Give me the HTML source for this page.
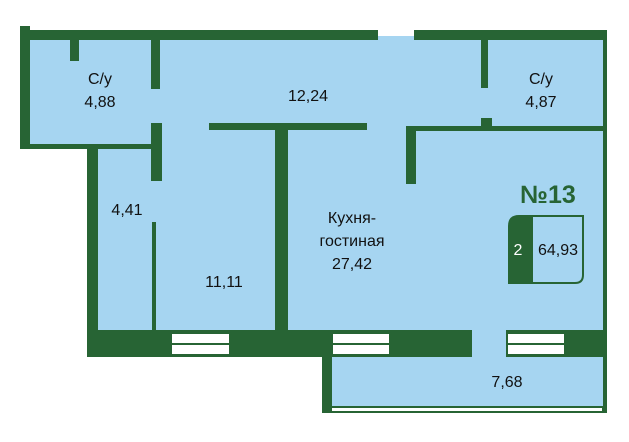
<!DOCTYPE html>
<html><head><meta charset="utf-8"><style>
body{margin:0;background:#fff;}
svg{display:block;}
text{font-family:"Liberation Sans",sans-serif;font-size:16px;fill:#111;text-anchor:middle;}
</style></head><body>
<svg width="629" height="442" viewBox="0 0 629 442" xmlns="http://www.w3.org/2000/svg">
<g fill="#a6d5f1">
<polygon points="30,36 603,36 603,330 98,330 98,148 30,148"/>
<rect x="332" y="330" width="271" height="77"/>
</g>
<g fill="#276434">
<rect x="20" y="26" width="10" height="122"/>
<rect x="20" y="30" width="358" height="10"/>
<rect x="414" y="30" width="193" height="10"/>
<rect x="603" y="30" width="4" height="383"/>
<rect x="20" y="144" width="140" height="5"/>
<rect x="87" y="144" width="11" height="213"/>
<rect x="70" y="40" width="9" height="21"/>
<rect x="151" y="40" width="9" height="49"/>
<rect x="151" y="123" width="11" height="58"/>
<rect x="152" y="222" width="4" height="110"/>
<rect x="209" y="123" width="158" height="7"/>
<rect x="275" y="123" width="13" height="210"/>
<rect x="481" y="40" width="7" height="48"/>
<rect x="481" y="118" width="11" height="9"/>
<rect x="406" y="126" width="201" height="5"/>
<rect x="406" y="126" width="10" height="58"/>
<rect x="87" y="330" width="385" height="27"/>
<rect x="506" y="330" width="101" height="27"/>
<rect x="322" y="357" width="10" height="56"/>
<rect x="322" y="406" width="285" height="7"/>
</g>
<g fill="#fff">
<rect x="172" y="334" width="57" height="20"/>
<rect x="333" y="334" width="56" height="20"/>
<rect x="508" y="334" width="56" height="20"/>
<rect x="332" y="408" width="270" height="3"/>
</g>
<g fill="#276434">
<rect x="172" y="343" width="57" height="2"/>
<rect x="333" y="343" width="56" height="2"/>
<rect x="508" y="343" width="56" height="2"/>
</g>
<text x="100" y="84">С/у</text>
<text x="100" y="107">4,88</text>
<text x="308" y="101">12,24</text>
<text x="541" y="84">С/у</text>
<text x="541" y="107">4,87</text>
<text x="127" y="215">4,41</text>
<text x="224" y="287">11,11</text>
<text x="352" y="223">Кухня-</text>
<text x="352" y="246">гостиная</text>
<text x="352" y="269">27,42</text>
<text x="507" y="387">7,68</text>
<text x="548" y="203" style="font-size:25px;font-weight:bold;fill:#276434">№13</text>
<path d="M519,216 H583 V275 Q583,283 575,283 H509 V226 Q509,216 519,216 Z" fill="none" stroke="#276434" stroke-width="2"/>
<path d="M519,216 H533 V283 H509 V226 Q509,216 519,216 Z" fill="#276434"/>
<text x="518" y="255" style="fill:#fff">2</text>
<text x="558" y="255">64,93</text>
</svg>
</body></html>
